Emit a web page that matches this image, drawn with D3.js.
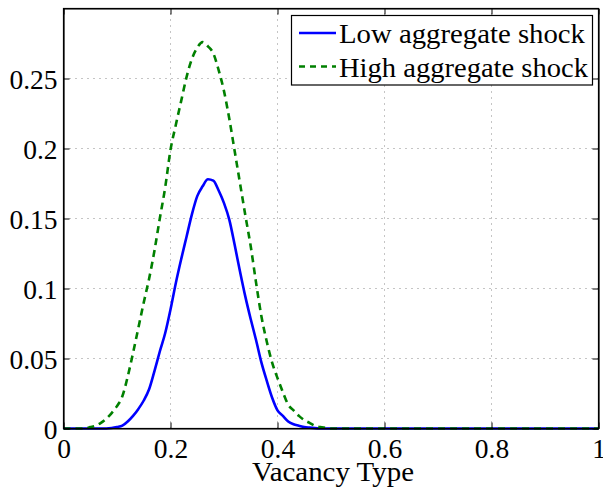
<!DOCTYPE html>
<html>
<head>
<meta charset="utf-8">
<script src="https://cdn.jsdelivr.net/npm/d3@7"></script>
<style>
  html, body { margin: 0; padding: 0; background: #fff; }
  svg text { font-family: 'Liberation Serif', 'Times New Roman', Times, serif; fill: #000; }
</style>
</head>
<body>
<svg id="chart" width="603" height="488"></svg>
<script>
// ---- data ----
const xValues = [
  0.00, 0.01, 0.02, 0.03, 0.04, 0.05, 0.06, 0.07, 0.08, 0.09,
  0.10, 0.11, 0.12, 0.13, 0.14, 0.15, 0.16, 0.17, 0.18, 0.19,
  0.20, 0.21, 0.22, 0.23, 0.24, 0.25, 0.26, 0.27, 0.28, 0.29,
  0.30, 0.31, 0.32, 0.33, 0.34, 0.35, 0.36, 0.37, 0.38, 0.39,
  0.40, 0.41, 0.42, 0.43, 0.44, 0.45, 0.46, 0.47, 0.48, 0.49,
  0.50, 0.55, 0.60, 0.70, 0.80, 0.90, 1.00
];
const lowShock = [
  0, 0, 0, 0, 0, 0, 0, 0, 0, 0.0003,
  0.001, 0.002, 0.005, 0.009, 0.014, 0.020, 0.028, 0.041, 0.055, 0.068,
  0.085, 0.104, 0.121, 0.137, 0.153, 0.166, 0.173, 0.178, 0.177, 0.170,
  0.161, 0.149, 0.131, 0.112, 0.094, 0.078, 0.063, 0.047, 0.034, 0.022,
  0.013, 0.009, 0.005, 0.003, 0.002, 0.001, 0.0006, 0.0003, 0.0001, 0,
  0, 0, 0, 0, 0, 0, 0
];
const highShock = [
  0, 0, 0, 0, 0, 0.001, 0.002, 0.004, 0.007, 0.011,
  0.016, 0.023, 0.037, 0.054, 0.072, 0.090, 0.107, 0.127, 0.150, 0.172,
  0.199, 0.217, 0.234, 0.251, 0.264, 0.272, 0.276, 0.273, 0.268, 0.256,
  0.241, 0.221, 0.198, 0.175, 0.152, 0.130, 0.104, 0.080, 0.062, 0.047,
  0.036, 0.026, 0.017, 0.013, 0.009, 0.006, 0.004, 0.002, 0.001, 0.0005,
  0, 0, 0, 0, 0, 0, 0
];
const seriesNames = ["Low aggregate shock", "High aggregate shock"];
const xTicks = [0, 0.2, 0.4, 0.6, 0.8, 1];
const xTickLabels = ["0", "0.2", "0.4", "0.6", "0.8", "1"];
const yTicks = [0, 0.05, 0.1, 0.15, 0.2, 0.25];
const yTickLabels = ["0", "0.05", "0.1", "0.15", "0.2", "0.25"];
const xLabel = "Vacancy Type";

// ---- layout ----
const L = 63.5, R = 598.5, T = 8.5, B = 428.5;
const FONT = "'Liberation Serif', 'Times New Roman', Times, serif";
const FS = 27.5;
const svg = d3.select("#chart");
const x = d3.scaleLinear().domain([0, 1]).range([L, R]);
const y = d3.scaleLinear().domain([0, 0.3]).range([B, T]);

// grid
const grid = svg.append("g").attr("stroke", "#8a8a8a").attr("stroke-width", 1)
  .attr("stroke-dasharray", "1,5");
xTicks.filter(v => v > 0 && v < 1).forEach(v => {
  grid.append("line").attr("x1", x(v)).attr("x2", x(v)).attr("y1", B).attr("y2", T);
});
yTicks.filter(v => v > 0).forEach(v => {
  grid.append("line").attr("x1", L).attr("x2", R).attr("y1", y(v)).attr("y2", y(v));
});

// curves
const line = d3.line().curve(d3.curveMonotoneX).x((d, i) => x(xValues[i])).y(d => y(d));
svg.append("path").datum(lowShock).attr("d", line)
  .attr("fill", "none").attr("stroke", "#0000ff").attr("stroke-width", 2.6)
  .attr("stroke-linejoin", "round");
svg.append("path").datum(highShock).attr("d", line)
  .attr("fill", "none").attr("stroke", "#008000").attr("stroke-width", 2.6)
  .attr("stroke-dasharray", "7,5");

// axes box with inward ticks (MATLAB style)
const axB = svg.append("g").attr("transform", `translate(0,${B})`)
  .call(d3.axisBottom(x).tickValues(xTicks).tickSizeInner(-6).tickSizeOuter(0)
    .tickPadding(12).tickFormat((d, i) => xTickLabels[i]));
const axT = svg.append("g").attr("transform", `translate(0,${T})`)
  .call(d3.axisTop(x).tickValues(xTicks).tickSizeInner(-6).tickSizeOuter(0).tickFormat(""));
const axL = svg.append("g").attr("transform", `translate(${L},0)`)
  .call(d3.axisLeft(y).tickValues(yTicks).tickSizeInner(-6).tickSizeOuter(0)
    .tickPadding(6).tickFormat((d, i) => yTickLabels[i]));
const axR = svg.append("g").attr("transform", `translate(${R},0)`)
  .call(d3.axisRight(y).tickValues(yTicks).tickSizeInner(-6).tickSizeOuter(0).tickFormat(""));
[axB, axT, axL, axR].forEach(g => {
  g.attr("font-family", null).attr("font-size", null);
  g.select(".domain").attr("stroke", "#000").attr("stroke-width", 1.2);
  g.selectAll(".tick line").attr("stroke", "#000").attr("stroke-width", 1);
  g.selectAll("text").style("font-family", FONT).style("font-size", FS + "px").attr("fill", "#000");
});
axB.selectAll("text").attr("dy", null).attr("y", 29.5);
axL.selectAll("text").attr("dy", "0.38em");
svg.append("rect").attr("x", L).attr("y", T).attr("width", R - L).attr("height", B - T)
  .attr("fill", "none").attr("stroke", "#000").attr("stroke-width", 1.2);

// x label
svg.append("text").attr("x", (L + R) / 2 + 2).attr("y", 481).attr("text-anchor", "middle")
  .attr("textLength", 162).attr("lengthAdjust", "spacingAndGlyphs")
  .style("font-family", FONT).style("font-size", FS + "px").text(xLabel);

// legend
const lg = svg.append("g");
lg.append("rect").attr("x", 291.5).attr("y", 15.5).attr("width", 301).attr("height", 69.5)
  .attr("fill", "#fff").attr("stroke", "#000").attr("stroke-width", 1.2);
const legendRows = [
  { name: seriesNames[0], color: "#0000ff", dash: null, yy: 33, w: 246 },
  { name: seriesNames[1], color: "#008000", dash: "6,5", yy: 66.5, w: 249 }
];
legendRows.forEach(r => {
  lg.append("line").attr("x1", 299).attr("x2", 336).attr("y1", r.yy).attr("y2", r.yy)
    .attr("stroke", r.color).attr("stroke-width", 2.4)
    .attr("stroke-dasharray", r.dash);
  lg.append("text").attr("x", 339).attr("y", r.yy + 10.3)
    .attr("textLength", r.w).attr("lengthAdjust", "spacingAndGlyphs")
    .style("font-family", FONT).style("font-size", FS + "px").text(r.name);
});
</script>
</body>
</html>
